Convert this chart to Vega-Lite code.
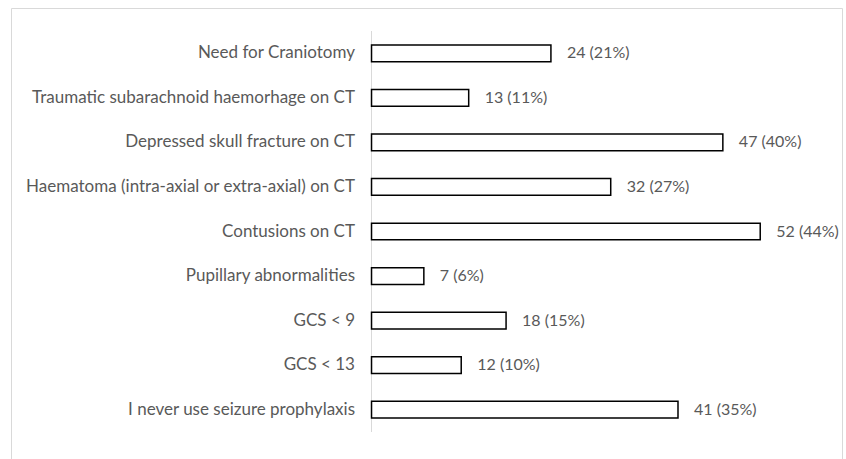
{
  "$schema": "https://vega.github.io/schema/vega-lite/v6.json",
  "width": 831,
  "height": 451,
  "autosize": {"type": "none"},
  "padding": {"left": 11, "top": 8, "right": 4, "bottom": 0},
  "background": "white",
  "config": {
    "view": {"stroke": "#d9d9d9", "strokeWidth": 1},
    "font": "Lato"
  },
  "datasets": {
    "items": [
      {"item": "Need for Craniotomy", "n": 24, "label": "24 (21%)"},
      {"item": "Traumatic subarachnoid haemorhage on CT", "n": 13, "label": "13 (11%)"},
      {"item": "Depressed skull fracture on CT", "n": 47, "label": "47 (40%)"},
      {"item": "Haematoma (intra-axial or extra-axial) on CT", "n": 32, "label": "32 (27%)"},
      {"item": "Contusions on CT", "n": 52, "label": "52 (44%)"},
      {"item": "Pupillary abnormalities", "n": 7, "label": "7 (6%)"},
      {"item": "GCS < 9", "n": 18, "label": "18 (15%)"},
      {"item": "GCS < 13", "n": 12, "label": "12 (10%)"},
      {"item": "I never use seizure prophylaxis", "n": 41, "label": "41 (35%)"}
    ],
    "axisline": [
      {"first": "Need for Craniotomy", "last": "I never use seizure prophylaxis"}
    ]
  },
  "layer": [
    {
      "data": {"name": "axisline"},
      "mark": {"type": "rule", "color": "#d9d9d9", "strokeWidth": 1},
      "encoding": {
        "x": {"datum": 0, "type": "quantitative", "scale": {"domain": [-48.23, 62.94], "nice": false, "zero": false}, "axis": null},
        "y": {"field": "first", "type": "nominal", "bandPosition": 0,
              "scale": {"domain": ["Need for Craniotomy", "Traumatic subarachnoid haemorhage on CT", "Depressed skull fracture on CT", "Haematoma (intra-axial or extra-axial) on CT", "Contusions on CT", "Pupillary abnormalities", "GCS < 9", "GCS < 13", "I never use seizure prophylaxis"],
                        "paddingInner": 0, "paddingOuter": 0.561, "align": 0.46},
              "axis": {"title": null, "orient": "left", "offset": -360.5, "domain": false, "ticks": false,
                       "labelPadding": 17, "labelFontSize": 17, "labelFont": "Lato", "labelColor": "#595959", "labelLimit": 0}},
        "y2": {"field": "last", "bandPosition": 1}
      }
    },
    {
      "data": {"name": "items"},
      "mark": {"type": "bar", "fill": "white", "stroke": "black", "strokeWidth": 1.5, "height": {"band": 0.375}},
      "encoding": {
        "x": {"field": "n", "type": "quantitative", "axis": null},
        "x2": {"datum": 0},
        "y": {"field": "item", "type": "nominal", "sort": null, "title": null}
      }
    },
    {
      "data": {"name": "items"},
      "mark": {"type": "text", "align": "left", "baseline": "middle", "dx": 16, "fontSize": 16, "font": "Lato", "color": "#595959"},
      "encoding": {
        "x": {"field": "n", "type": "quantitative"},
        "y": {"field": "item", "type": "nominal", "title": null},
        "text": {"field": "label"}
      }
    }
  ]
}
